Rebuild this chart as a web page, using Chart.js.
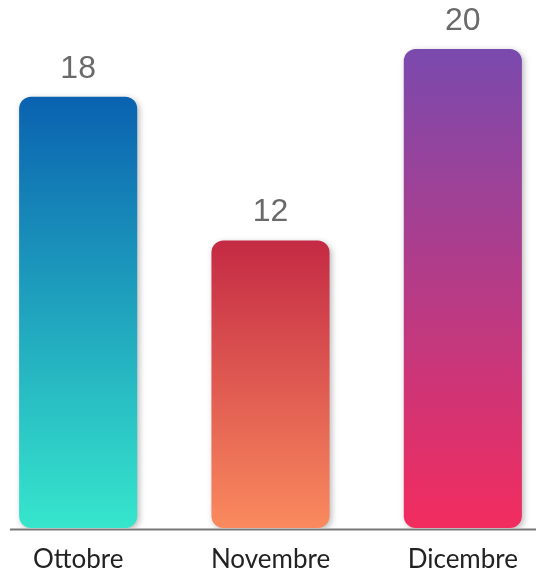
<!DOCTYPE html>
<html>
<head>
<meta charset="utf-8">
<script src="https://cdn.jsdelivr.net/npm/chart.js@4.4.1/dist/chart.umd.min.js"></script>
<style>
  html, body { margin: 0; padding: 0; background: #fff; overflow: hidden; }
  #wrap { position: relative; left: -18px; width: 577px; height: 592px; }
</style>
</head>
<body>
<div id="wrap"><canvas id="bars"></canvas></div>
<script>
const months = ["Ottobre", "Novembre", "Dicembre"];
const counts = [18, 12, 20];
const topColors = ["#0a62b0", "#c42a44", "#7a4aae"];
const bottomColors = ["#36e6cc", "#fa8a5e", "#f22c5e"];

// vertical gradient per bar, from its top down to zero
const barGradient = (ctx) => {
  const chart = ctx.chart;
  const yScale = chart.scales.y;
  if (!chart.chartArea || !yScale) return topColors[ctx.dataIndex];
  const top = yScale.getPixelForValue(counts[ctx.dataIndex]);
  const bottom = yScale.getPixelForValue(0);
  const g = chart.ctx.createLinearGradient(0, top, 0, bottom);
  g.addColorStop(0, topColors[ctx.dataIndex]);
  g.addColorStop(1, bottomColors[ctx.dataIndex]);
  return g;
};

const barShadow = {
  id: "barShadow",
  beforeDatasetsDraw(chart) {
    const c = chart.ctx;
    c.save();
    c.shadowColor = "rgba(0,0,0,0.28)";
    c.shadowBlur = 6;
    c.shadowOffsetX = 2;
    c.shadowOffsetY = 2;
  },
  afterDatasetsDraw(chart) {
    chart.ctx.restore();
  },
};

// canvas is shifted 18px left, so the line starts at page x = 10
const baseLine = {
  id: "baseLine",
  afterDatasetsDraw(chart) {
    const c = chart.ctx;
    const y = chart.scales.y.getPixelForValue(0) + 1.5;
    c.save();
    c.strokeStyle = "#777";
    c.lineWidth = 2;
    c.beginPath();
    c.moveTo(28, y);
    c.lineTo(chart.width, y);
    c.stroke();
    c.restore();
  },
};

const valueLabels = {
  id: "valueLabels",
  afterDatasetsDraw(chart) {
    const c = chart.ctx;
    const meta = chart.getDatasetMeta(0);
    c.save();
    c.font = "32px 'Liberation Sans', Arial, sans-serif";
    c.fillStyle = "#6a6a6a";
    c.textAlign = "center";
    c.textBaseline = "middle";
    meta.data.forEach((bar, i) => {
      c.fillText(String(counts[i]), bar.x, bar.y - 28);
    });
    c.restore();
  },
};

new Chart(document.getElementById("bars"), {
  type: "bar",
  data: {
    labels: months,
    datasets: [
      {
        data: counts,
        backgroundColor: barGradient,
        borderRadius: 12,
        borderSkipped: false,
        categoryPercentage: 1,
        barPercentage: 0.614,
      },
    ],
  },
  options: {
    responsive: true,
    maintainAspectRatio: false,
    animation: false,
    layout: {
      padding: { top: 1, left: 0, right: 0, bottom: 0 },
    },
    plugins: {
      legend: { display: false },
      tooltip: { enabled: false },
    },
    scales: {
      x: {
        grid: { display: false, drawTicks: false },
        border: { display: false },
        ticks: {
          color: "#222",
          padding: 19,
          font: { family: "Lato", size: 26, lineHeight: 1 },
        },
      },
      y: {
        display: false,
        min: 0,
        max: 22,
      },
    },
  },
  plugins: [barShadow, baseLine, valueLabels],
});
</script>
</body>
</html>
